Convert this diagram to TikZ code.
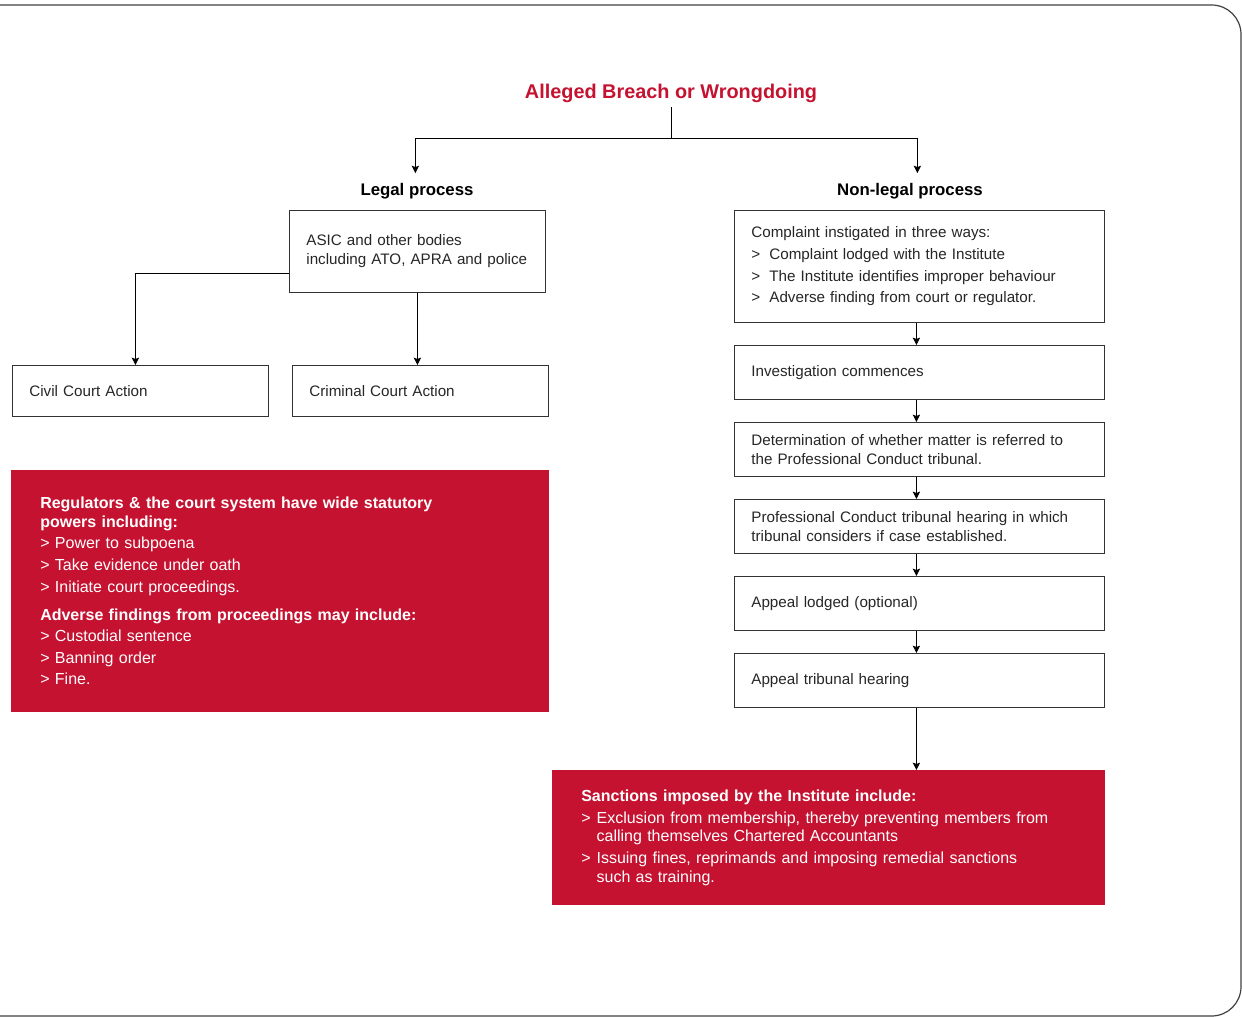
\documentclass[tikz,border=0pt]{standalone}
\usepackage{fontspec}
\setmainfont{Liberation Sans}
\usepackage{xcolor}
\usetikzlibrary{positioning,calc,arrows.meta}
\definecolor{brandred}{RGB}{196,18,48}

\begin{document}
\begin{tikzpicture}[x=0.75pt,y=-0.75pt,
    font=\fontsize{11.4}{14.25}\selectfont,
    box/.style={draw=black!80,line width=0.6pt,anchor=north west,inner xsep=12.75pt,inner ysep=0pt,align=left,text=black!85},
    lbox/.style={box,minimum width=192pt,text width=166.5pt},
    rbox/.style={box,minimum width=277.5pt,text width=252pt,minimum height=40.5pt},
    redbox/.style={fill=brandred,text=white,anchor=north west,inner xsep=21.75pt,inner ysep=0pt,align=left,font=\fontsize{12}{14.25}\selectfont},
    head/.style={font=\fontsize{12.6}{15}\selectfont\bfseries},
    arr/.style={-{Stealth[length=5.5pt,width=5.5pt,inset=1pt]},line width=0.7pt},
    ]
    \useasboundingbox (0,0) rectangle (1242,1017);
    \draw[black!75,line width=0.9pt,rounded corners=22pt] (0,5) -- (1241,5) -- (1241,1016) -- (0,1016);

    \node[font=\fontsize{14.9}{17}\selectfont\bfseries,text=brandred] (title) at (671,93) {Alleged Breach or Wrongdoing};
    \node[head] (legal) at (417,191) {Legal process};
    \node[head] (nonlegal) at (910,191) {Non-legal process};

    \node[lbox,minimum height=61.5pt] (asic) at (289,210) {\mbox{ASIC and other bodies}\\\mbox{including ATO, APRA and police}};
    \node[lbox,minimum height=38.25pt] (civil) at (12,365) {Civil Court Action};
    \node[lbox,minimum height=38.25pt] (criminal) at (292,365) {Criminal Court Action};

    \node[redbox,minimum width=403.5pt,text width=360pt,minimum height=181.5pt] (powers) at (11,470)
        {\textbf{Regulators \& the court system have wide statutory}\\
         \textbf{powers including:}\\[1.5pt]
         > Power to subpoena\\[2pt]
         > Take evidence under oath\\[2pt]
         > Initiate court proceedings.\\[7pt]
         \textbf{Adverse findings from proceedings may include:}\\[1.5pt]
         > Custodial sentence\\[2pt]
         > Banning order\\[2pt]
         > Fine.};

    \node[rbox,minimum height=84pt] (complaint) at (734,210)
        {Complaint instigated in three ways:\\[2pt]
         \makebox[13.5pt][l]{>}Complaint lodged with the Institute\\[2pt]
         \makebox[13.5pt][l]{>}The Institute identifies improper behaviour\\[2pt]
         \makebox[13.5pt][l]{>}Adverse finding from court or regulator.};
    \node[rbox] (invest) at (734,345) {Investigation commences};
    \node[rbox] (determ) at (734,422) {Determination of whether matter is referred to\\the Professional Conduct tribunal.};
    \node[rbox] (hearing) at (734,499) {Professional Conduct tribunal hearing in which\\tribunal considers if case established.};
    \node[rbox] (appeal) at (734,576) {Appeal lodged (optional)};
    \node[rbox] (tribunal) at (734,653) {Appeal tribunal hearing};

    \node[redbox,minimum width=414.75pt,text width=371.25pt,minimum height=101.25pt] (sanctions) at (552,770)
        {\textbf{Sanctions imposed by the Institute include:}\\[2pt]
         \makebox[11.5pt][l]{>}\mbox{Exclusion from membership, thereby preventing members from}\\[-0.5pt]
         \hspace*{11.5pt}calling themselves Chartered Accountants\\[2pt]
         \makebox[11.5pt][l]{>}Issuing fines, reprimands and imposing remedial sanctions\\
         \hspace*{11.5pt}such as training.};

    \coordinate (split) at (title.south |- 0,138);
    \draw[line width=0.7pt] (title.south) -- (split);
    \draw[arr,shorten >=4pt] (split) -| ([xshift=-1.5pt]asic.north |- legal.north);
    \draw[arr,shorten >=4pt] (split) -| ([xshift=-1.5pt]complaint.north |- nonlegal.north);

    \draw[arr] ([yshift=-16.5pt]asic.west) -| ([xshift=-3.75pt]civil.north);
    \draw[arr] (asic.south) -- (asic.south |- criminal.north);

    \foreach \a/\b in {complaint/invest,invest/determ,determ/hearing,hearing/appeal,appeal/tribunal}
        \draw[arr] ([xshift=-2.25pt]\a.south) -- ([xshift=-2.25pt]\b.north);
    \draw[arr] ([xshift=-2.25pt]tribunal.south) -- ([xshift=-2.25pt]tribunal.south |- sanctions.north);
\end{tikzpicture}
\end{document}
